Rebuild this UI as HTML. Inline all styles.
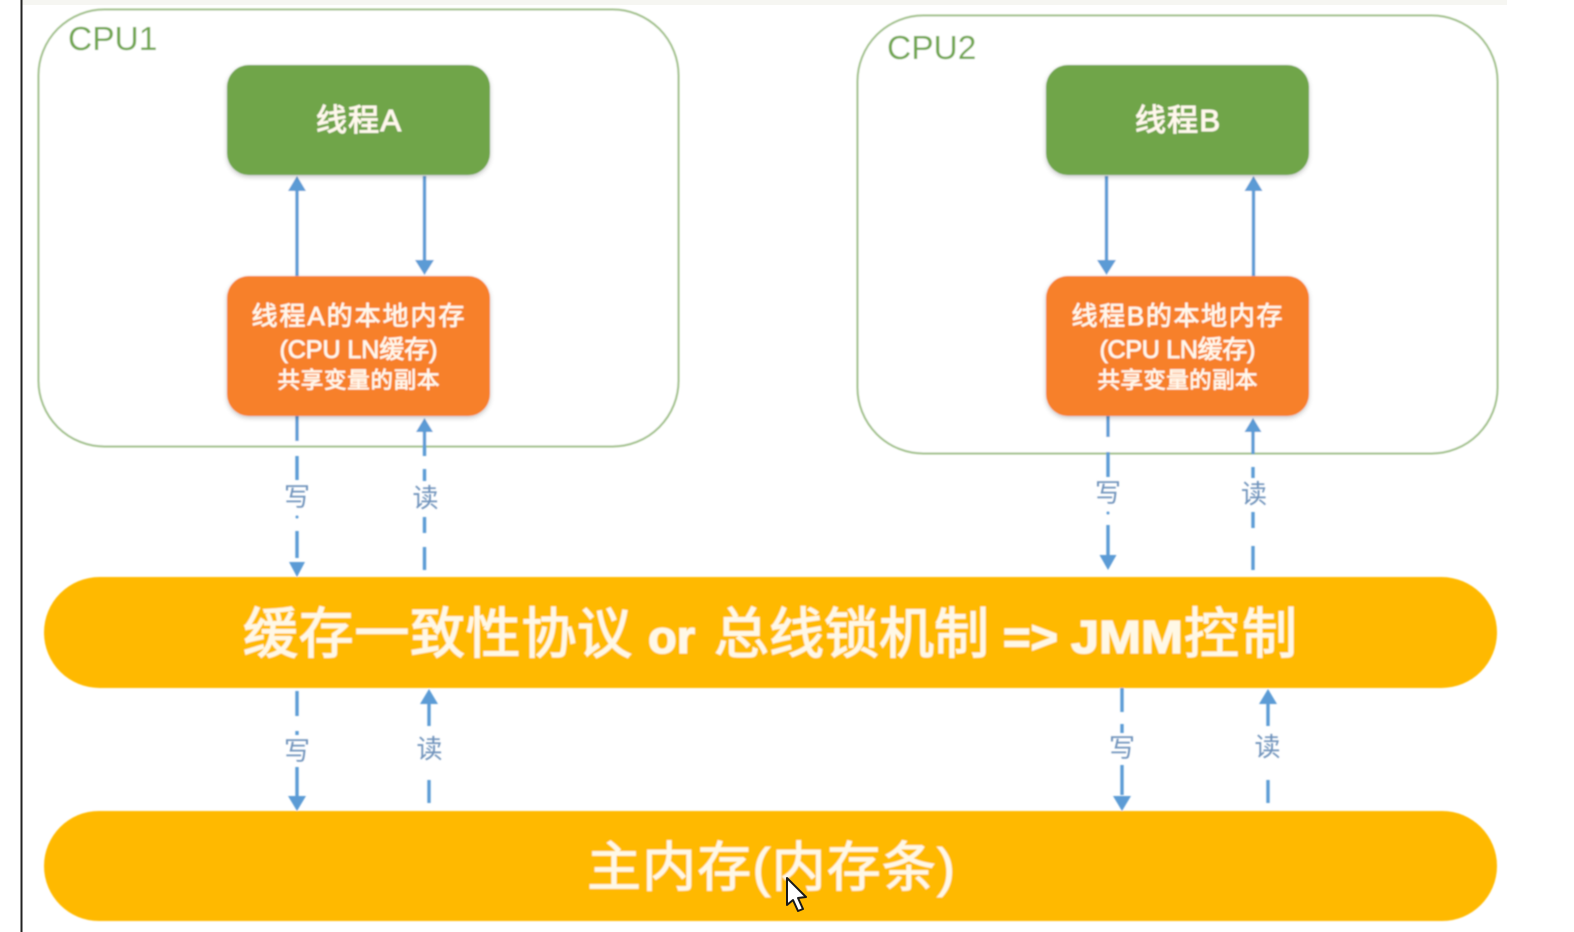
<!DOCTYPE html>
<html>
<head>
<meta charset="utf-8">
<style>
html,body{margin:0;padding:0;background:#fff;width:1574px;height:932px;overflow:hidden}
svg{display:block}
text{font-family:"Liberation Sans","Noto Sans CJK SC",sans-serif;text-anchor:middle}
.w{fill:#fff8ec;stroke:#fff8ec;stroke-width:.7;paint-order:stroke}
.m{fill:#fff8e6;stroke:#fff8e6;stroke-width:1.1;text-anchor:start;font-size:55px}
.l{fill:#6f93bb;font-size:26px}
.c{fill:#70a64e;font-size:33.500px;text-anchor:start}
.s{stroke:#5b9bd5;stroke-width:3.400;fill:none}
.a{fill:#5b9bd5}
</style>
</head>
<body>
<svg width="1574" height="932" viewBox="0 0 1574 932" xmlns="http://www.w3.org/2000/svg">
<defs>
<filter id="b" x="-5%" y="-5%" width="110%" height="110%"><feGaussianBlur stdDeviation="0.7"/></filter>
<filter id="sh" x="-5%" y="-5%" width="110%" height="115%"><feDropShadow dx="0" dy="2" stdDeviation="2.5" flood-color="#000" flood-opacity=".22"/></filter>
</defs>
<rect x="22" y="0" width="1485" height="5" fill="#f6f6f2"/>
<rect x="20.500" y="0" width="2" height="932" fill="#222"/>

<g filter="url(#b)">
<rect x="38.500" y="9.500" width="640" height="437" rx="66" fill="#fff" stroke="#a0c08a" stroke-width="2"/>
<rect x="857.500" y="15.500" width="640" height="438" rx="66" fill="#fff" stroke="#a0c08a" stroke-width="2"/>
<text x="68" y="50" class="c">CPU1</text>
<text x="887" y="59" class="c">CPU2</text>

<!-- solid arrows -->
<path class="s" d="M297 276V190M424.500 176V262M1106.500 176V262M1253.500 276V190"/>
<path class="a" d="M297 176l-9 15h18zM424.500 275l-9.500-15h19zM1106.500 275l-9.500-15h19zM1253.500 176l-9 15h18z"/>

<!-- dashed arrows upper -->
<path class="s" d="M297 416V441M297 456V480M297 531V558"/>
<circle cx="297" cy="517" r="1.500" class="a"/>
<path class="a" d="M297 577l-8-15h16z"/>
<path class="s" d="M424.500 430V456M424.500 469V481M424.500 517V533M424.500 547V570"/>
<path class="a" d="M424.500 418l-8.500 14h17z"/>
<path class="s" d="M1108 416V437M1108 452V477M1108 525V555"/>
<circle cx="1108" cy="513" r="1.500" class="a"/>
<path class="a" d="M1108 570l-8.500-15h17z"/>
<path class="s" d="M1253 430V454M1253 467V478M1253 512V528M1253 546V570"/>
<path class="a" d="M1253 418l-8.500 14h17z"/>

<!-- dashed arrows lower -->
<path class="s" d="M297 691V716M297 731V735M297 767V796"/>
<path class="a" d="M297 811l-9-15h18z"/>
<path class="s" d="M429 703V726M429 780V803"/>
<path class="a" d="M429 689l-9 15h18z"/>
<path class="s" d="M1122 688V712M1122 724V733M1122 765V795"/>
<path class="a" d="M1122 811l-9-15h18z"/>
<path class="s" d="M1268 703V726M1268 780V803"/>
<path class="a" d="M1268 689l-9 15h18z"/>

<text x="297" y="506" class="l">写</text>
<text x="425.500" y="507" class="l">读</text>
<text x="1108" y="502" class="l">写</text>
<text x="1254" y="503" class="l">读</text>
<text x="297" y="760" class="l">写</text>
<text x="429.500" y="758" class="l">读</text>
<text x="1122" y="757" class="l">写</text>
<text x="1267.500" y="756" class="l">读</text>

<!-- thread boxes -->
<rect x="227" y="65" width="263" height="110" rx="22" fill="#70a548" filter="url(#sh)"/>
<rect x="1046" y="65" width="263" height="110" rx="22" fill="#70a548" filter="url(#sh)"/>
<text x="358.500" y="131" class="w" font-size="31" textLength="85" style="stroke-width:1">线程A</text>
<text x="1177.500" y="131" class="w" font-size="31" textLength="85" style="stroke-width:1">线程B</text>

<rect x="227" y="276" width="263" height="140" rx="22" fill="#f7802b" filter="url(#sh)"/>
<rect x="1046" y="276" width="263" height="140" rx="22" fill="#f7802b" filter="url(#sh)"/>
<text x="358" y="325" class="w" font-size="26" textLength="213">线程A的本地内存</text>
<text x="358.500" y="358" class="w" font-size="25" textLength="158">(CPU LN缓存)</text>
<text x="358.500" y="388" class="w" font-size="22.500" textLength="162">共享变量的副本</text>
<text x="1177" y="325" class="w" font-size="26" textLength="211">线程B的本地内存</text>
<text x="1177.500" y="358" class="w" font-size="25" textLength="156">(CPU LN缓存)</text>
<text x="1177.500" y="388" class="w" font-size="22.500" textLength="160">共享变量的副本</text>

<!-- bars -->
<rect x="44" y="577" width="1453" height="111" rx="55.500" fill="#ffb900"/>
<rect x="44" y="811" width="1453" height="110" rx="55" fill="#ffb900"/>
<text x="243" y="653" class="m" textLength="389">缓存一致性协议</text>
<text x="648" y="653" class="m" font-weight="700" textLength="47" lengthAdjust="spacingAndGlyphs" style="font-size:46px">or</text>
<text x="714" y="653" class="m" textLength="275">总线锁机制</text>
<text x="1003" y="653" class="m" font-weight="700" textLength="55" lengthAdjust="spacingAndGlyphs" style="font-size:46px">=&gt;</text>
<text x="1071" y="653" class="m" font-weight="700" textLength="112" lengthAdjust="spacingAndGlyphs" style="font-size:46px">JMM</text>
<text x="1184" y="653" class="m" textLength="113">控制</text>
<text x="771" y="886" class="m" font-size="54" textLength="368" style="stroke-width:.8;text-anchor:middle;font-size:54px">主内存(内存条)</text>
</g>

<!-- cursor -->
<path d="M787 878V905L793 900L798 911L803 909L798 898L806 897Z" fill="#fff" stroke="#1a1a1a" stroke-width="2" stroke-linejoin="round"/>
</svg>
</body>
</html>
